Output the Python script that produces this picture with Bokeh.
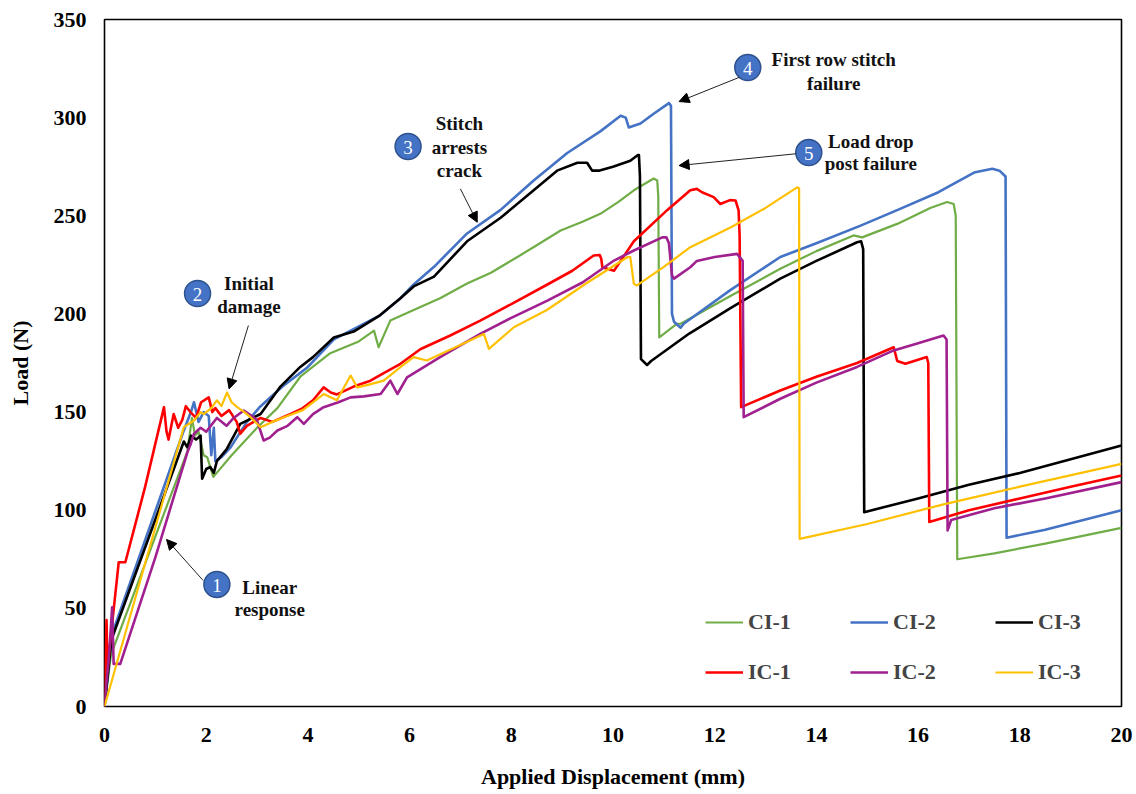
from bokeh.plotting import figure
from bokeh.models import Range1d, FixedTicker, Legend, LegendItem, Arrow, NormalHead
from bokeh.core.properties import value
from bokeh.embed import file_html
from bokeh.resources import INLINE

# ---------------- data ----------------
ci1_x = [0, 0.12, 0.15, 1.63, 1.72, 1.78, 1.85, 1.95, 2.02, 2.14, 2.5, 3.0, 3.4, 3.85, 4.44, 5.0, 5.3, 5.39, 5.62,
         6.08, 6.6, 7.13, 7.6, 8.12, 8.5, 8.97, 9.4, 9.75, 10.1, 10.41, 10.8, 10.87, 10.89, 10.91, 11.26, 11.33,
         12.3, 13.29, 14.0, 14.73, 14.9, 15.6, 16.24, 16.57, 16.7, 16.74, 16.77, 17.5, 18.5, 20]
ci1_y = [0, 25, 28, 130, 147, 138, 140, 128, 127, 117, 128, 142, 152, 168, 180, 186, 191.5, 183, 196.6,
         202, 208, 215.5, 221, 229, 235, 242.5, 247, 251, 257, 263, 269, 268, 260, 188, 195, 195,
         209, 223, 232, 240, 239, 246, 254, 257, 256, 250, 75, 78, 83, 91]

ci2_x = [0, 0.12, 0.15, 1.55, 1.7, 1.76, 1.85, 1.95, 2.05, 2.1, 2.15, 2.18, 2.3, 2.48, 2.8, 3.07, 3.5, 4.0, 4.51,
         5.4, 5.82, 6.08, 6.48, 7.13, 7.79, 8.44, 9.1, 9.75, 10.15, 10.25, 10.31, 10.54, 10.8, 11.1, 11.14, 11.16,
         11.2, 11.33, 11.39, 12.3, 13.29, 14.0, 14.87, 15.6, 16.4, 17.1, 17.46, 17.6, 17.72, 17.74, 18.5, 20]
ci2_y = [0, 30, 37, 140, 150, 155, 145, 150, 148, 128, 142, 125, 127, 132, 145, 153, 163, 173, 187,
         199, 208, 215, 224, 241, 253, 268, 282, 293, 301, 300, 295, 297, 302, 307.4, 306, 200,
         196, 193, 195, 212, 229, 236, 245, 253, 262, 272, 274, 273, 270, 86, 90, 100]

ci3_x = [0, 0.12, 0.15, 1.56, 1.63, 1.7, 1.8, 1.89, 1.92, 2.0, 2.08, 2.15, 2.21, 2.4, 2.67, 3.07, 3.46, 3.85, 4.1,
         4.51, 4.9, 5.4, 5.82, 6.08, 6.48, 7.13, 7.79, 8.44, 8.9, 9.3, 9.49, 9.59, 9.72, 10.0, 10.34, 10.49, 10.51,
         10.53, 10.55, 10.67, 10.75, 11.5, 12.31, 13.29, 14.0, 14.8, 14.88, 14.92, 14.94, 16, 17, 18, 19, 20]
ci3_y = [0, 30, 35, 135, 132, 138, 136, 138, 116, 121, 122, 119, 125, 131, 144, 149, 163, 173, 178,
         188, 191, 199, 208, 214, 219, 237, 249, 263, 273, 277, 277, 273, 273, 275, 278, 281, 281,
         270, 177, 174, 176, 190, 203, 218, 227, 236.5, 237, 233, 99, 106, 113, 119, 126, 133]

ic1_x = [0, 0.04, 0.06, 0.1, 0.28, 0.41, 0.8, 1.17, 1.22, 1.26, 1.36, 1.45, 1.53, 1.6, 1.69, 1.8, 1.9, 2.05, 2.12,
         2.18, 2.3, 2.45, 2.6, 2.67, 2.8, 3.07, 3.3, 3.66, 3.9, 4.1, 4.31, 4.45, 4.57, 4.9, 5.23, 5.5, 5.82, 6.21,
         6.8, 7.39, 8.0, 8.71, 9.2, 9.62, 9.74, 9.77, 9.79, 10.02, 10.41, 11.07, 11.52, 11.65, 11.75, 11.98, 12.11,
         12.3, 12.41, 12.47, 12.49, 12.52, 13.29, 14.0, 14.8, 15.52, 15.56, 15.59, 15.75, 16.17, 16.2, 16.22, 17,
         18, 19, 20]
ic1_y = [0, 44, 18, 30, 73.5, 73.5, 112, 152.5, 140, 136, 149, 142, 146, 153, 150, 147, 155, 157.5, 150,
         152, 148, 151, 145, 139, 143, 147, 145, 149, 152, 156, 162.6, 160, 159, 163, 166, 170, 174.6, 182,
         189, 196.6, 205, 215, 222, 229.8, 230, 228, 223.8, 222, 237, 253, 263, 263.7, 262, 259.5, 256,
         258, 257.8, 252.7, 240, 152.5, 161, 168, 175, 183, 179, 176, 174.6, 178, 175, 94, 100,
         106, 112, 117.7]

ic2_x = [0, 0.1, 0.15, 0.18, 0.31, 1.0, 1.63, 1.7, 1.76, 1.89, 2.0, 2.21, 2.4, 2.54, 2.74, 2.9, 3.0, 3.13, 3.25,
         3.4, 3.6, 3.79, 3.92, 4.1, 4.31, 4.6, 4.84, 5.1, 5.43, 5.62, 5.76, 5.95, 6.6, 7.39, 8.0, 8.71, 9.4, 10.02,
         10.41, 10.97, 11.05, 11.1, 11.16, 11.2, 11.52, 11.65, 12.0, 12.44, 12.55, 12.57, 13.29, 14.0, 14.8, 15.52,
         16.0, 16.5, 16.56, 16.58, 16.65, 17.5, 18.5, 20]
ic2_y = [0, 30, 50.6, 21.7, 21.7, 76, 129.5, 134, 139, 142, 140, 147, 143, 147, 150.8, 148, 145.7, 135.5, 137,
         140.6, 143, 147.4, 144, 149, 152.5, 155, 157.5, 158, 159.2, 166, 159.2, 167.7, 178, 189.8, 198, 206.8,
         216, 227.2, 232.3, 239, 239, 236, 219.6, 218, 223.8, 227, 229, 230.6, 227, 147.4, 156.8, 165, 173,
         181.4, 185, 189, 187, 89.7, 95, 101, 106, 114.3]

ic3_x = [0, 1.56, 1.76, 1.89, 1.95, 2.1, 2.21, 2.3, 2.41, 2.5, 2.61, 2.75, 2.87, 3.07, 3.3, 3.53, 3.9, 4.31, 4.57,
         4.84, 4.97, 5.2, 5.49, 5.82, 6.08, 6.34, 6.9, 7.46, 7.56, 8.05, 8.7, 9.5, 10.28, 10.34, 10.41, 10.47, 11.0,
         11.52, 12.31, 13.0, 13.62, 13.66, 13.67, 15, 16.5, 18, 20]
ic3_y = [0, 142.3, 145.7, 150, 149, 152, 156, 153, 160, 155, 152.5, 150, 147.4, 142.3, 145, 147.4, 151, 159.2,
         156, 168.6, 162.6, 164, 166, 172.9, 178, 176.3, 183, 189.8, 182.2, 193.2, 202, 216, 228.9, 228.9, 215.3,
         214.5, 224, 234, 244, 254, 264.5, 264, 85.4, 93, 103, 112, 123.6]

series_names = ["CI-1", "CI-2", "CI-3", "IC-1", "IC-2", "IC-3"]
x_ticks = [0, 2, 4, 6, 8, 10, 12, 14, 16, 18, 20]
y_ticks = [0, 50, 100, 150, 200, 250, 300, 350]

# annotation content
note_nums = ["1", "2", "3", "4", "5"]
note_lines = [["Linear", "response"], ["Initial", "damage"], ["Stitch", "arrests", "crack"],
              ["First row stitch", "failure"], ["Load drop", "post failure"]]

# ---------------- styling / layout ----------------
colors = ["#70AD47", "#4472C4", "#000000", "#FF0000", "#A0208F", "#FFC000"]
widths = [2.2, 2.6, 2.6, 2.6, 2.6, 2.2]
FONT = "Liberation Serif"

p = figure(width=1136, height=794, output_backend="svg", toolbar_location=None,
           x_range=Range1d(0, 20), y_range=Range1d(0, 350),
           min_border_left=104, min_border_right=15, min_border_top=19, min_border_bottom=88,
           x_axis_label="Applied Displacement (mm)", y_axis_label="Load (N)")
p.xgrid.visible = False
p.ygrid.visible = False
p.outline_line_color = "black"
p.outline_line_width = 1.6
p.outline_line_alpha = 1.0
p.background_fill_color = "white"
p.border_fill_color = "white"

for ax in (p.xaxis[0], p.yaxis[0]):
    ax.axis_line_color = None
    ax.major_tick_line_color = None
    ax.minor_tick_line_color = None
    ax.major_tick_out = 0
    ax.major_tick_in = 0
    ax.minor_tick_out = 0
    ax.minor_tick_in = 0
    ax.major_label_text_font = FONT
    ax.major_label_text_font_style = "bold"
    ax.major_label_text_font_size = "22px"
    ax.major_label_text_color = "black"
    ax.axis_label_text_font = FONT
    ax.axis_label_text_font_style = "bold"
    ax.axis_label_text_font_size = "22px"
    ax.axis_label_text_color = "black"
p.xaxis.ticker = FixedTicker(ticks=x_ticks)
p.yaxis.ticker = FixedTicker(ticks=y_ticks)
p.xaxis.major_label_standoff = 21
p.yaxis.major_label_standoff = 18
p.xaxis.axis_label_standoff = 19
p.yaxis.axis_label_standoff = 18

xs = [ci1_x, ci2_x, ci3_x, ic1_x, ic2_x, ic3_x]
ys = [ci1_y, ci2_y, ci3_y, ic1_y, ic2_y, ic3_y]
renderers = []
for x, y, c, w in zip(xs, ys, colors, widths):
    r = p.line(x, y, line_color=c, line_width=w, line_join="round")
    renderers.append(r)

# legend (two rows of three)
leg_kw = dict(orientation="horizontal", glyph_width=38, glyph_height=26, label_height=26, label_width=80,
              spacing=22, padding=0, margin=0, border_line_color=None, background_fill_alpha=0,
              label_text_font=FONT, label_text_font_style="bold", label_text_font_size="22px",
              label_standoff=5)
leg1 = Legend(items=[LegendItem(label=series_names[i], renderers=[renderers[i]]) for i in range(3)],
              location=(601, 71), **leg_kw)
leg2 = Legend(items=[LegendItem(label=series_names[i], renderers=[renderers[i]]) for i in range(3, 6)],
              location=(601, 21), **leg_kw)
p.add_layout(leg1)
p.add_layout(leg2)

# annotation positions (data units)
circ_x = [2.21, 1.83, 5.97, 12.65, 13.85]
circ_y = [62.2, 210.4, 285.3, 325.5, 282.2]
text_x = [3.25, 2.84, 6.98, 14.34, 15.07]
text_y = [[60.6, 49.4], [215.5, 203.8], [297.0, 284.8, 273.0], [329.6, 317.4], [287.8, 276.6]]
arrow_start = [(1.94, 64.2), (2.83, 194.1), (7.0, 263.7), (12.49, 320.6), (13.6, 281.6)]
arrow_end = [(1.22, 85.1), (2.45, 161.8), (7.33, 246.7), (11.3, 308.2), (11.3, 275.6)]

for (x0, y0), (x1, y1) in zip(arrow_start, arrow_end):
    p.add_layout(Arrow(end=NormalHead(size=10, fill_color="black", line_color="black", line_width=1),
                       x_start=x0, y_start=y0, x_end=x1, y_end=y1, line_color="#222222", line_width=1))

p.scatter(circ_x, circ_y, size=26, marker="circle", fill_color="#4472C4", line_color="#2F528F", line_width=1.5)
p.text(circ_x, circ_y, text=note_nums, text_align="center", text_baseline="middle", text_color="white",
       text_font=value(FONT), text_font_size="19px", y_offset=1)

tx, ty, tt = [], [], []
for x, ylist, lines in zip(text_x, text_y, note_lines):
    for yy, ln in zip(ylist, lines):
        tx.append(x); ty.append(yy); tt.append(ln)
p.text(tx, ty, text=tt, text_align="center", text_baseline="middle", text_color="#111111",
       text_font=value(FONT), text_font_style="bold", text_font_size="19px")

open("out.html", "w").write(file_html(p, INLINE))
